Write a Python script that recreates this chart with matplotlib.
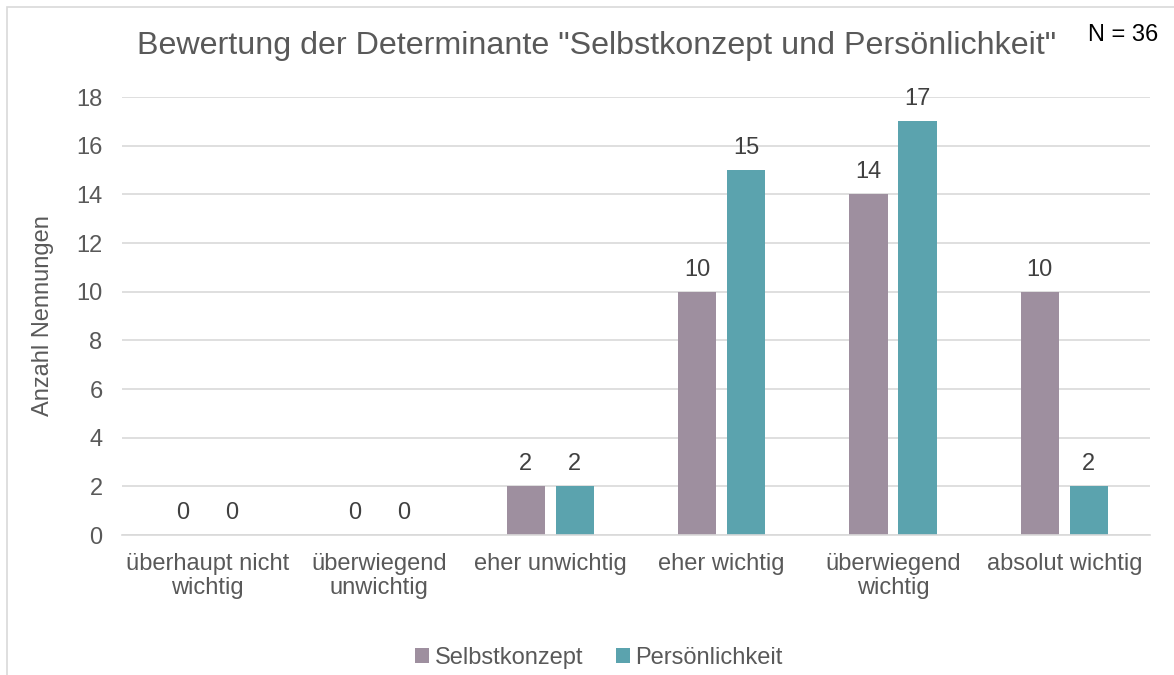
import matplotlib
matplotlib.use("Agg")
import matplotlib.pyplot as plt
import numpy as np
from matplotlib.patches import Rectangle

categories = ["überhaupt nicht\nwichtig", "überwiegend\nunwichtig", "eher unwichtig",
              "eher wichtig", "überwiegend\nwichtig", "absolut wichtig"]
selbstkonzept = [0, 0, 2, 10, 14, 10]
persoenlichkeit = [0, 0, 2, 15, 17, 2]
series_names = ["Selbstkonzept", "Persönlichkeit"]
yticks = [0, 2, 4, 6, 8, 10, 12, 14, 16, 18]

plt.rcParams['font.family'] = ['Liberation Sans', 'DejaVu Sans']

W, H = 1174, 675
fig = plt.figure(figsize=(W/100, H/100), dpi=100)
ax = fig.add_axes([122/W, 1-535/H, (1150-122)/W, (535-97)/H])

FS = 17
x = np.arange(len(categories))
bw = 0.222
off = 0.143
c1 = "#9e8f9f"
c2 = "#5ba3ae"
b1 = ax.bar(x - off, selbstkonzept, bw, color=c1, label=series_names[0])
b2 = ax.bar(x + off, persoenlichkeit, bw, color=c2, label=series_names[1])

for bars, vals in ((b1, selbstkonzept), (b2, persoenlichkeit)):
    for r, v in zip(bars, vals):
        ax.annotate(str(v), (r.get_x() + r.get_width()/2, v), xytext=(0, 8),
                    textcoords="offset points", ha="center", va="bottom",
                    fontsize=FS, color="#404040")

ax.set_xlim(-0.5, len(categories) - 0.5)
ax.set_ylim(0, 18)
ax.set_yticks(yticks)
ax.set_xticks(x)
ax.set_xticklabels(categories, fontsize=FS, color="#595959", linespacing=1.12)
ax.tick_params(axis='y', labelsize=FS, labelcolor="#595959", length=0, pad=14)
ax.tick_params(axis='x', length=0, pad=13)
ax.grid(axis='y', color="#d9d9d9", linewidth=1.2)
ax.set_axisbelow(True)
for s in ["top", "right", "left"]:
    ax.spines[s].set_visible(False)
ax.spines["bottom"].set_color("#d9d9d9")
ax.spines["bottom"].set_linewidth(1.2)

ax.set_ylabel("Anzahl Nennungen", fontsize=FS, color="#595959", labelpad=16)

fig.text(597/W, 1-46/H, 'Bewertung der Determinante "Selbstkonzept und Persönlichkeit"',
         ha="center", va="center", fontsize=23.2, color="#595959")
fig.text(1088/W, 1-35/H, "N = 36", ha="left", va="center", fontsize=FS, color="black")

leg = fig.legend(loc="center", bbox_to_anchor=(599/W, 1-658/H), ncol=2, frameon=False,
                 fontsize=FS, handlelength=0.6, handleheight=0.6, handletextpad=0.25,
                 columnspacing=1.35)
for t in leg.get_texts():
    t.set_color("#595959")

fig.add_artist(Rectangle((6.5/W, -0.1), 1.2, 1 - 6.5/H + 0.1, transform=fig.transFigure,
                         fill=False, edgecolor="#d9d9d9", linewidth=1.2))

fig.savefig("out.png", dpi=100)
